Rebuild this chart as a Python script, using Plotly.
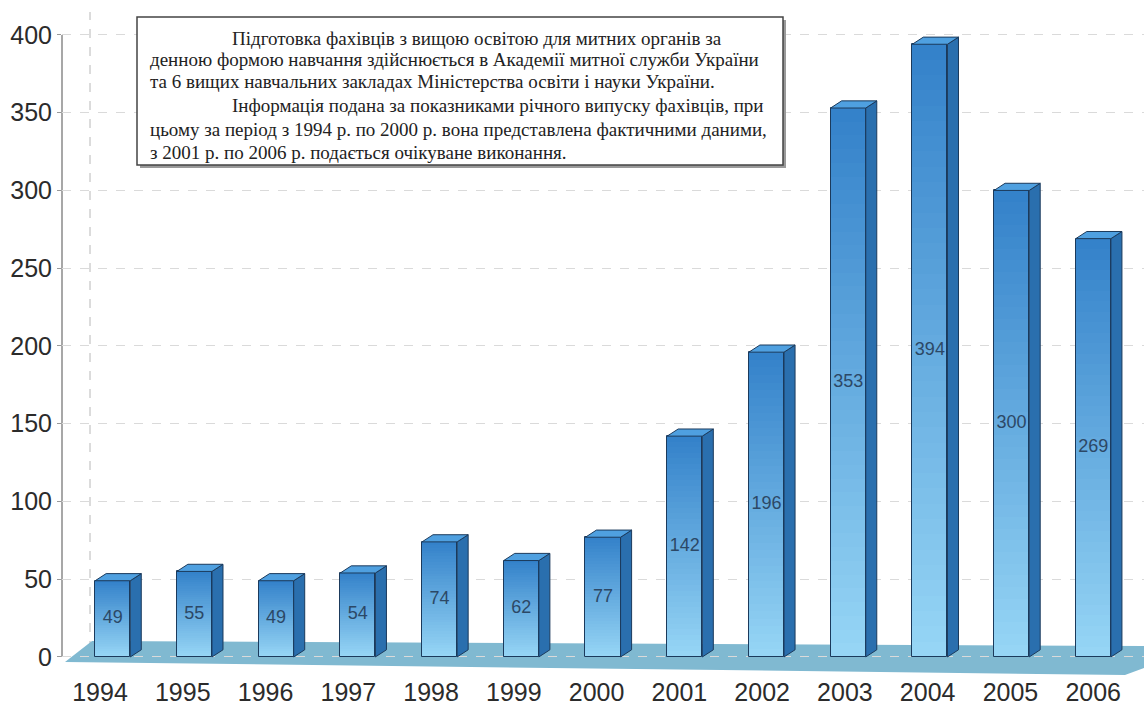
import numpy as np
import plotly.graph_objects as go

# ---------------- data ----------------
years = ["1994", "1995", "1996", "1997", "1998", "1999", "2000",
         "2001", "2002", "2003", "2004", "2005", "2006"]
values = [49, 55, 49, 54, 74, 62, 77, 142, 196, 353, 394, 300, 269]
y_ticks = [0, 50, 100, 150, 200, 250, 300, 350, 400]

note_lines = [
    "Підготовка фахівців з вищою освітою для митних органів за",
    "денною формою навчання здійснюється в Академії митної служби України",
    "та 6 вищих навчальних закладах Міністерства освіти і науки України.",
    "Інформація подана за показниками річного випуску фахівців, при",
    "цьому за період з 1994 р. по 2000 р. вона представлена фактичними даними,",
    "з 2001 р. по 2006 р. подається очікуване виконання.",
]
note_indent = [True, False, False, True, False, False]

# ---------------- geometry / style ----------------
W_PX, H_PX = 1144, 715
L, R, T, B = 62, 0, 20, 40
X_RANGE = [-0.62, 12.62]
Y_RANGE = [-11.6, 409.6]

n = len(values)
xs = np.arange(n)
W = 0.43      # bar front width (category units)
DX = 0.135    # 3D depth offset in x
DY = 4.6      # 3D depth offset in y
NSEG = 40

TOP_C = (52, 130, 202)
BOT_C = (150, 213, 245)
SIDE_C = "#2a6fae"
TOPFACE_C = "#4fa0e0"
EDGE_C = "#1b3a5c"


def lerp(c1, c2, t):
    return "rgb(%d,%d,%d)" % tuple(round(a + (b - a) * t) for a, b in zip(c1, c2))


def px2paper_x(px):
    return (px - L) / (W_PX - L - R)


def py2paper_y(py):
    return (H_PX - B - py) / (H_PX - T - B)


def px2data_x(px):
    return X_RANGE[0] + (px - L) / (W_PX - L - R) * (X_RANGE[1] - X_RANGE[0])


def py2data_y(py):
    return Y_RANGE[0] + (H_PX - B - py) / (H_PX - T - B) * (Y_RANGE[1] - Y_RANGE[0])


fig = go.Figure()

# side faces
sx, sy = [], []
for i, v in enumerate(values):
    x1 = i + W / 2
    sx += [x1, x1 + DX, x1 + DX, x1, x1, None]
    sy += [0, DY, v + DY, v, 0, None]
fig.add_trace(go.Scatter(x=sx, y=sy, mode="lines", fill="toself",
                         fillcolor=SIDE_C, line=dict(color=EDGE_C, width=1),
                         hoverinfo="skip", showlegend=False))

# top faces
tx, ty = [], []
for i, v in enumerate(values):
    x0, x1 = i - W / 2, i + W / 2
    tx += [x0, x0 + DX, x1 + DX, x1, x0, None]
    ty += [v, v + DY, v + DY, v, v, None]
fig.add_trace(go.Scatter(x=tx, y=ty, mode="lines", fill="toself",
                         fillcolor=TOPFACE_C, line=dict(color=EDGE_C, width=1),
                         hoverinfo="skip", showlegend=False))

# front faces with vertical gradient
gx, gb, gh, gc = [], [], [], []
for i, v in enumerate(values):
    for k in range(NSEG):
        t = k / (NSEG - 1)
        gx.append(i)
        gb.append(v * k / NSEG)
        gh.append(v / NSEG * (1.0 if k == NSEG - 1 else 1.25))
        gc.append(lerp(BOT_C, TOP_C, t))
fig.add_trace(go.Bar(x=gx, y=gh, base=gb, width=W,
                     marker=dict(color=gc, line=dict(width=0)),
                     hoverinfo="skip", showlegend=False))

# front outline
fig.add_trace(go.Bar(x=xs, y=values, width=W,
                     marker=dict(color="rgba(0,0,0,0)", line=dict(color=EDGE_C, width=1)),
                     showlegend=False, hovertemplate="%{x}: %{y}<extra></extra>"))

# value labels
fig.add_trace(go.Scatter(x=xs, y=[v / 2 for v in values], mode="text",
                         text=[str(v) for v in values],
                         textfont=dict(family="Liberation Sans, Arial, sans-serif",
                                       size=18, color="#2c4866"),
                         hoverinfo="skip", showlegend=False))

# ---------------- decorations ----------------
shapes = []
# floor
floor_pts = [(65, 662), (92, 641), (1144, 646), (1144, 668), (1125, 675)]
path = "M " + " L ".join("%f,%f" % (px2data_x(a), py2data_y(b)) for a, b in floor_pts) + " Z"
shapes.append(dict(type="path", xref="x", yref="y", path=path,
                   fillcolor="#80b9d1", line=dict(width=0), layer="below"))
# back-wall vertical dashed line
shapes.append(dict(type="line", xref="paper", yref="paper",
                   x0=px2paper_x(90), x1=px2paper_x(90),
                   y0=py2paper_y(650), y1=py2paper_y(12),
                   line=dict(color="#b8b8b8", width=1, dash="dash"), layer="below"))
# y axis line
shapes.append(dict(type="line", xref="paper", yref="y", x0=0, x1=0,
                   y0=0, y1=400, line=dict(color="#8a8a8a", width=1.5), layer="below"))
# note box shadow + box
bx0, bx1, by0, by1 = 137, 783, 17, 165
shapes.append(dict(type="rect", xref="paper", yref="paper",
                   x0=px2paper_x(bx0 + 3), x1=px2paper_x(bx1 + 3),
                   y0=py2paper_y(by1 + 3), y1=py2paper_y(by0 + 3),
                   fillcolor="#9a9a9a", line=dict(width=0)))
shapes.append(dict(type="rect", xref="paper", yref="paper",
                   x0=px2paper_x(bx0), x1=px2paper_x(bx1),
                   y0=py2paper_y(by1), y1=py2paper_y(by0),
                   fillcolor="white", line=dict(color="#444444", width=1.5)))

annotations = []
line_y = [38, 60, 82, 105, 129, 152]
for txt, ind, yy in zip(note_lines, note_indent, line_y):
    annotations.append(dict(
        x=px2paper_x(230 if ind else 148), y=py2paper_y(yy),
        xref="paper", yref="paper", xanchor="left", yanchor="middle",
        text=txt, showarrow=False, align="left",
        font=dict(family="Liberation Serif, Times New Roman, serif", size=19, color="#222222")))

tickvals_x = [-0.155 + 1.0128 * i for i in range(n)]

fig.update_layout(
    width=W_PX, height=H_PX,
    margin=dict(l=L, r=R, t=T, b=B),
    paper_bgcolor="white", plot_bgcolor="white",
    barmode="overlay", bargap=0,
    showlegend=False,
    shapes=shapes, annotations=annotations,
    xaxis=dict(range=X_RANGE, tickmode="array", tickvals=tickvals_x, ticktext=years,
               showgrid=False, zeroline=False, showline=False, ticks="",
               tickfont=dict(family="Liberation Sans, Arial, sans-serif", size=25, color="#2b2b2b")),
    yaxis=dict(range=Y_RANGE, tickmode="array", tickvals=y_ticks,
               showgrid=True, gridcolor="#dadada", griddash="dash", gridwidth=1,
               zeroline=False, showline=False, ticks="outside", ticklen=4,
               tickcolor="#999999",
               tickfont=dict(family="Liberation Sans, Arial, sans-serif", size=25, color="#2b2b2b")),
)

fig.write_html("out.html")
